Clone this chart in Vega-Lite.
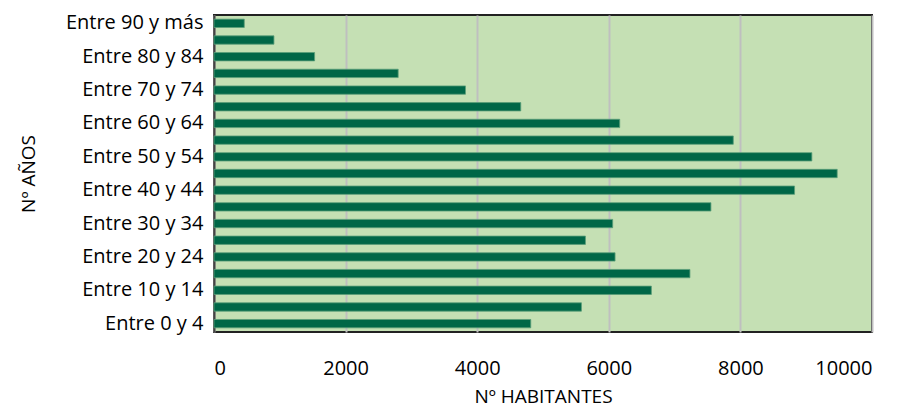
{
  "$schema": "https://vega.github.io/schema/vega-lite/v6.json",
  "width": 658,
  "height": 317,
  "autosize": {"type": "none"},
  "padding": {"left": 214, "top": 15, "right": 32, "bottom": 76},
  "background": "white",
  "config": {
    "font": "Open Sans",
    "view": {"fill": "#c5e0b4", "stroke": "#222222", "strokeWidth": 2}
  },
  "data": {
    "values": [
      {"edad": "Entre 0 y 4", "habitantes": 4814},
      {"edad": "Entre 5 y 9", "habitantes": 5584},
      {"edad": "Entre 10 y 14", "habitantes": 6647},
      {"edad": "Entre 15 y 19", "habitantes": 7233},
      {"edad": "Entre 20 y 24", "habitantes": 6095},
      {"edad": "Entre 25 y 29", "habitantes": 5645},
      {"edad": "Entre 30 y 34", "habitantes": 6059},
      {"edad": "Entre 35 y 39", "habitantes": 7552},
      {"edad": "Entre 40 y 44", "habitantes": 8823},
      {"edad": "Entre 45 y 49", "habitantes": 9471},
      {"edad": "Entre 50 y 54", "habitantes": 9086},
      {"edad": "Entre 55 y 59", "habitantes": 7892},
      {"edad": "Entre 60 y 64", "habitantes": 6166},
      {"edad": "Entre 65 y 69", "habitantes": 4662},
      {"edad": "Entre 70 y 74", "habitantes": 3822},
      {"edad": "Entre 75 y 79", "habitantes": 2799},
      {"edad": "Entre 80 y 84", "habitantes": 1529},
      {"edad": "Entre 85 y 89", "habitantes": 911},
      {"edad": "Entre 90 y más", "habitantes": 460}
    ]
  },
  "mark": {"type": "bar", "color": "#006747", "stroke": "#5a9e78", "strokeWidth": 0.8},
  "encoding": {
    "y": {
      "field": "edad",
      "type": "nominal",
      "sort": ["Entre 90 y más", "Entre 85 y 89", "Entre 80 y 84", "Entre 75 y 79", "Entre 70 y 74", "Entre 65 y 69", "Entre 60 y 64", "Entre 55 y 59", "Entre 50 y 54", "Entre 45 y 49", "Entre 40 y 44", "Entre 35 y 39", "Entre 30 y 34", "Entre 25 y 29", "Entre 20 y 24", "Entre 15 y 19", "Entre 10 y 14", "Entre 5 y 9", "Entre 0 y 4"],
      "scale": {"paddingInner": 0.5, "paddingOuter": 0.25},
      "axis": {
        "title": "Nº AÑOS",
        "titleFontSize": 19,
        "titleFontWeight": "normal",
        "titleColor": "#000000",
        "titlePadding": 27,
        "values": ["Entre 90 y más", "Entre 80 y 84", "Entre 70 y 74", "Entre 60 y 64", "Entre 50 y 54", "Entre 40 y 44", "Entre 30 y 34", "Entre 20 y 24", "Entre 10 y 14", "Entre 0 y 4"],
        "labelFontSize": 20,
        "labelColor": "#000000",
        "labelPadding": 11,
        "ticks": false,
        "domain": true,
        "domainColor": "#444444",
        "domainWidth": 2,
        "grid": false
      }
    },
    "x": {
      "field": "habitantes",
      "type": "quantitative",
      "scale": {"domain": [0, 10000], "nice": false},
      "axis": {
        "title": "Nº HABITANTES",
        "titleFontSize": 19,
        "titleFontWeight": "normal",
        "titleColor": "#000000",
        "titlePadding": 9,
        "values": [0, 2000, 4000, 6000, 8000, 10000],
        "format": "d",
        "labelFontSize": 20,
        "labelColor": "#000000",
        "labelPadding": 26,
        "ticks": false,
        "domain": false,
        "grid": true,
        "gridColor": "#bfbfbf",
        "gridWidth": 2
      }
    }
  }
}
